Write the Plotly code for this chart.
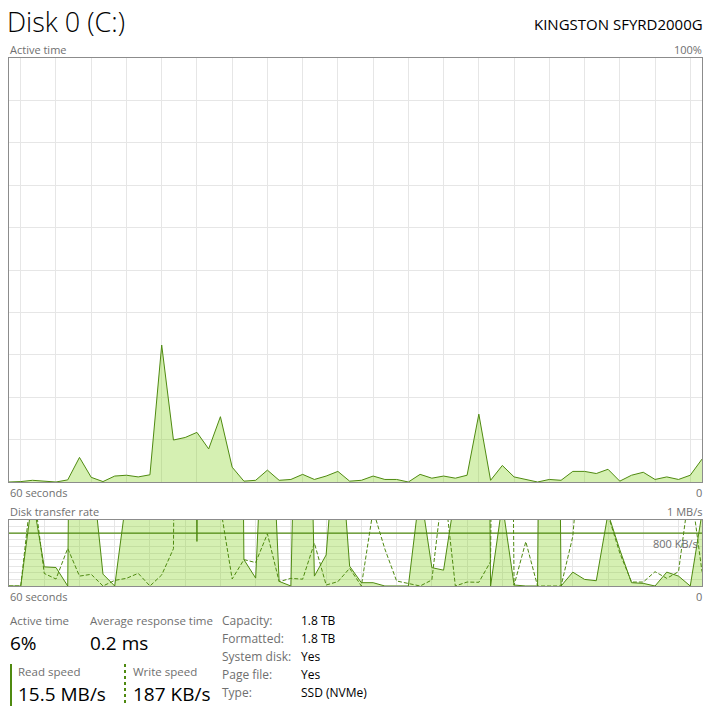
import plotly.graph_objects as go

# ---------------- data ----------------
seconds = list(range(60))  # 60 samples, oldest at left

active_time_pct = [0, 0.1, 0.4, 0.2, 0, 0.5, 5.8, 1.1, 0.1, 1.4,
                   1.6, 1.2, 1.7, 32.3, 9.9, 10.5, 11.7, 7.8, 15.4, 3.5,
                   0.2, 0.4, 2.8, 0.4, 0.6, 1.8, 0.6, 1.4, 2.5, 0.2,
                   0.4, 1.4, 0.6, 0.6, 0, 1.8, 0.9, 1.4, 0.9, 1.6,
                   16.0, 0.4, 3.9, 1.2, 0.6, 0, 0.6, 0.4, 2.5, 2.5,
                   2.0, 3.0, 0.2, 1.6, 2.3, 0.6, 1.2, 0.6, 1.6, 5.4]

read_kbps = [0, 0, 1350, 290, 280, 0, 20000, 1900, 180, 0,
             1350, 3000, 4000, 5000, 6000, 15000, 675, 15000, 8000, 20000,
             400, 120, 4000, 70, 0, 8000, 150, 470, 2700, 300,
             50, 50, 0, 0, 0, 1470, 278, 240, 1400, 3000,
             20000, 0, 1250, 15, 0, 0, 20000, 0, 210, 100,
             80, 1100, 550, 50, 40, 0, 210, 150, 0, 1100]

write_kbps = [0, 0, 1600, 190, 106, 570, 150, 177, 0, 85,
              116, 192, 0, 167, 565, 20000, 8000, 5000, 1200, 106,
              400, 355, 790, 66, 116, 103, 650, 15, 66, 268,
              0, 1150, 560, 76, 40, 0, 91, 1600, 0, 60,
              56, 370, 20000, 10, 672, 0, 0, 0, 750, 2500,
              5000, 1080, 500, 60, 60, 217, 116, 217, 1550, 217]

reference_kbps = 800

stats_left = [("Active time", "6%"), ("Average response time", "0.2 ms")]
speeds = [("Read speed", "15.5 MB/s"), ("Write speed", "187 KB/s")]
props_labels = ["Capacity:", "Formatted:", "System disk:", "Page file:", "Type:"]
props_values = ["1.8 TB", "1.8 TB", "Yes", "Yes", "SSD (NVMe)"]

# ---------------- style ----------------
W = H = 708
LINE = "#4f8a10"
FILL = "rgba(120,207,7,0.31)"
GRID = "#e6e6e6"
BORDER = "#8c8c8c"
GRAY = "#6f6f6f"
FONT = "Segoe UI, Open Sans, Noto Sans, sans-serif"


def px(x):
    return x / W


def py(y):
    return 1 - y / H


fig = go.Figure()

fig.add_trace(go.Scatter(x=seconds, y=active_time_pct, mode="lines",
                         line=dict(color=LINE, width=1), fill="tozeroy",
                         fillcolor=FILL, xaxis="x", yaxis="y",
                         hoverinfo="skip", showlegend=False))

fig.add_trace(go.Scatter(x=seconds, y=read_kbps, mode="lines",
                         line=dict(color=LINE, width=1), fill="tozeroy",
                         fillcolor=FILL, xaxis="x2", yaxis="y2",
                         hoverinfo="skip", showlegend=False))
fig.add_trace(go.Scatter(x=seconds, y=write_kbps, mode="lines",
                         line=dict(color=LINE, width=1, dash="4px,2px"),
                         xaxis="x2", yaxis="y2",
                         hoverinfo="skip", showlegend=False))

axis_common = dict(showline=True, mirror=True, linecolor=BORDER, linewidth=1,
                   showticklabels=False, ticks="", zeroline=False,
                   gridcolor=GRID, gridwidth=1, fixedrange=True)

fig.update_layout(
    width=W, height=H,
    margin=dict(l=0, r=0, t=0, b=0),
    paper_bgcolor="white", plot_bgcolor="white",
    font=dict(family=FONT, color="black"),
    xaxis=dict(domain=[px(9), px(702)], range=[0, 59], tick0=1, dtick=3,
               anchor="y", **axis_common),
    yaxis=dict(domain=[py(482), py(58)], range=[0, 100], dtick=10,
               anchor="x", **axis_common),
    xaxis2=dict(domain=[px(9), px(702)], range=[0, 59], tick0=0, dtick=3,
                anchor="y2", **axis_common),
    yaxis2=dict(domain=[py(586), py(520)], range=[0, 1000], dtick=100,
                anchor="x2", **axis_common),
)

# 800 KB/s reference line
fig.add_shape(type="line", xref="x2 domain", yref="y2", x0=0, x1=1,
              y0=reference_kbps, y1=reference_kbps,
              line=dict(color=LINE, width=1.3))

annotations = []


def text(x, y, s, size, color="black", anchor="left", weight=None):
    f = dict(family=FONT, size=size, color=color)
    if weight:
        f["weight"] = weight
    annotations.append(dict(x=px(x), y=py(y), xref="paper", yref="paper",
                            text=s, showarrow=False, xanchor=anchor,
                            yanchor="middle", font=f))


text(5, 21, "Disk 0 (C:)", 27, weight=300)
text(705, 24, "KINGSTON SFYRD2000G", 15, anchor="right")
text(8, 49, "Active time", 11, GRAY)
text(704, 49, "100%", 11, GRAY, anchor="right")
text(8, 492, "60 seconds", 11, GRAY)
text(704, 492, "0", 11, GRAY, anchor="right")
text(8, 511, "Disk transfer rate", 11, GRAY)
text(704, 511, "1 MB/s", 11, GRAY, anchor="right")
text(700, 543, "800 KB/s", 11, GRAY, anchor="right")
text(8, 596, "60 seconds", 11, GRAY)
text(704, 596, "0", 11, GRAY, anchor="right")

for (lab, val), x in zip(stats_left, [8, 88]):
    text(x, 620, lab, 11.5, GRAY)
    text(x, 643, val, 19)

for (lab, val), x in zip(speeds, [16, 131]):
    text(x, 671, lab, 11.5, GRAY)
    text(x, 694, val, 19)

for k, (lab, val) in enumerate(zip(props_labels, props_values)):
    yy = 620 + 18 * k
    text(220, yy, lab, 12, GRAY)
    text(299, yy, val, 12)

fig.update_layout(annotations=annotations)

# legend-style markers for read / write speed
fig.add_shape(type="line", xref="paper", yref="paper", x0=px(11), x1=px(11),
              y0=py(664), y1=py(706), line=dict(color=LINE, width=2))
fig.add_shape(type="line", xref="paper", yref="paper", x0=px(125), x1=px(125),
              y0=py(664), y1=py(706), line=dict(color=LINE, width=2, dash="dot"))

fig.write_html("out.html",
               config={"displayModeBar": False, "staticPlot": True},
               post_script="document.body.style.margin='0';"
                           "document.body.style.overflow='hidden';")
